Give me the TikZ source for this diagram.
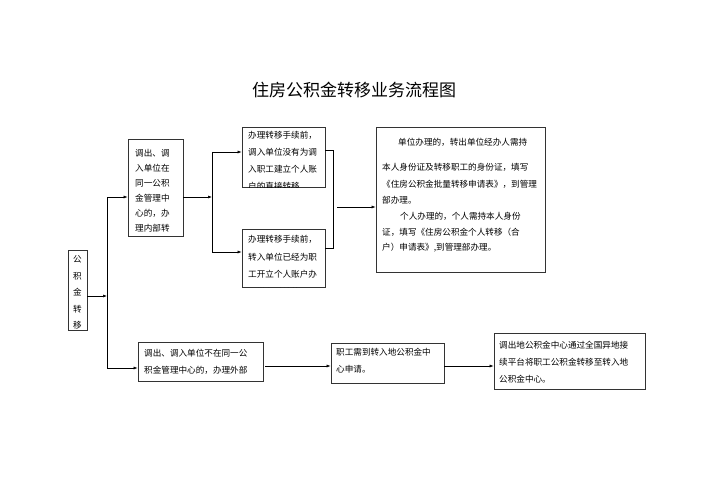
\documentclass[tikz,border=0pt]{standalone}
\usepackage{fontspec}
\setmainfont{Noto Sans CJK SC}
\usetikzlibrary{arrows.meta}
\begin{document}
\begin{tikzpicture}[x=1pt,y=-1pt,
 box/.style={draw=black!80,line width=0.8pt,fill=none},
 t/.style={anchor=west,inner sep=0pt,font=\fontsize{8.6}{10}\selectfont},
 arr/.style={-{Latex[length=4pt,width=3pt]},line width=0.6pt},
 ln/.style={line width=0.6pt}]
\useasboundingbox (0,0) rectangle (707,500);
\node[font=\fontsize{17}{20}\selectfont] (title) at (354,90) {住房公积金转移业务流程图};
% boxes
\node[box,minimum width=19pt,minimum height=80pt,inner sep=0pt] (g) at (77.5,290) {};
\node[box,minimum width=55pt,minimum height=97pt,inner sep=0pt] (a) at (155.5,187.5) {};
\node[box,minimum width=83pt,minimum height=60pt,inner sep=0pt] (b1) at (283.5,157) {};
\node[box,minimum width=83pt,minimum height=58pt,inner sep=0pt] (b2) at (283.5,258) {};
\node[box,minimum width=169pt,minimum height=145pt,inner sep=0pt] (c) at (460.5,199.5) {};
\node[box,minimum width=125pt,minimum height=39pt,inner sep=0pt] (d) at (200.5,361.5) {};
\node[box,minimum width=113pt,minimum height=40pt,inner sep=0pt] (e) at (387.5,363) {};
\node[box,minimum width=151pt,minimum height=56pt,inner sep=0pt] (f) at (569.5,361) {};
% texts
\foreach \ch [count=\i] in {公,积,金,转,移}
  \node[t,anchor=center] (g\i) at (77.5,243+16.5*\i) {\ch};
\foreach \s [count=\i] in {调出、调,入单位在,同一公积,金管理中,心的，办,理内部转}
  \node[t] (a\i) at (135,138+15*\i) {\s};
\begin{scope}
\clip (b1.north west) rectangle (b1.south east);
\foreach \s [count=\i] in {办理转移手续前，,调入单位没有为调,入职工建立个人账,户的直接转移}
  \node[t] (b1\i) at (248,118+17*\i) {\s};
\end{scope}
\begin{scope}
\clip (b2.north west) rectangle (b2.south east);
\foreach \s [count=\i] in {办理转移手续前，,转入单位已经为职,工开立个人账户办,理缴存手续的}
  \node[t] (b2\i) at (248,222+17.5*\i) {\s};
\end{scope}
\node[t] (c1) at (398,142) {单位办理的，转出单位经办人需持};
\node[t] (c2) at (382,167) {本人身份证及转移职工的身份证，填写};
\node[t] (c3) at (382,184) {《住房公积金批量转移申请表》，到管理};
\node[t] (c4) at (382,200) {部办理。};
\node[t] (c5) at (400,216) {个人办理的，个人需持本人身份};
\node[t] (c6) at (382,232) {证，填写《住房公积金个人转移（合};
\node[t] (c7) at (382,248) {户）申请表》,到管理部办理。};
\node[t] (d1) at (144,353) {调出、调入单位不在同一公};
\node[t] (d2) at (144,370) {积金管理中心的，办理外部};
\node[t] (e1) at (336,352) {职工需到转入地公积金中};
\node[t] (e2) at (336,369) {心申请。};
\node[t] (f1) at (499,345) {调出地公积金中心通过全国异地接};
\node[t] (f2) at (499,362) {续平台将职工公积金转移至转入地};
\node[t] (f3) at (499,379) {公积金中心。};
% connectors
\coordinate (v1t) at (107,197); \coordinate (v1b) at (107,368);
\draw[arr] (g.east |- 0,296) -- (107,296);
\draw[ln] (v1t) -- (v1b);
\draw[arr] (v1t) -- (a.west |- v1t);
\draw[arr] (v1b) -- (d.west |- v1b);
\coordinate (v2t) at (212,152); \coordinate (v2b) at (212,252);
\draw[arr] (a.east |- 0,197) -- (212,197);
\draw[ln] (v2t) -- (v2b);
\draw[arr] (v2t) -- (b1.west |- v2t);
\draw[arr] (v2b) -- (b2.west |- v2b);
\coordinate (k1) at (333,150); \coordinate (k2) at (333,248);
\draw[ln] (b1.east |- k1) -- (k1) -- (k2) -- (b2.east |- k2);
\coordinate (k3) at (337,207);
\draw[arr] (k3) -- (c.west |- k3);
\draw[arr] (265,366) -- (e.west |- 0,366);
\draw[arr] (e.east |- 0,366) -- (f.west |- 0,366);
\end{tikzpicture}
\end{document}
